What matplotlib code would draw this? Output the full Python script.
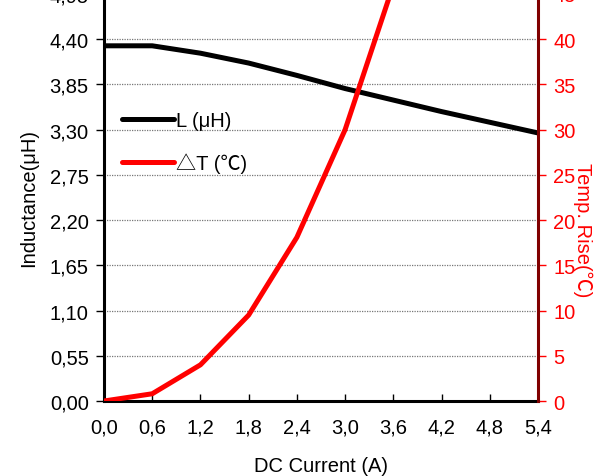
import matplotlib
matplotlib.use('Agg')
import matplotlib.pyplot as plt

# 数据
current = [0.0, 0.6, 1.2, 1.8, 2.4, 3.0, 3.6, 4.2, 4.8, 5.4]
inductance = [4.32, 4.32, 4.23, 4.11, 3.96, 3.80, 3.66, 3.52, 3.39, 3.26]
temp_current = [0.0, 0.6, 1.2, 1.8, 2.4, 3.0, 3.6]
temp_rise = [0.0, 0.8, 4.0, 9.5, 18.1, 30.0, 46.0]

x_ticks = [0.0, 0.6, 1.2, 1.8, 2.4, 3.0, 3.6, 4.2, 4.8, 5.4]
l_ticks = [0.00, 0.55, 1.10, 1.65, 2.20, 2.75, 3.30, 3.85, 4.40, 4.95]
t_ticks = [0, 5, 10, 15, 20, 25, 30, 35, 40, 45]

plt.rcParams['font.family'] = ['Liberation Sans', 'Noto Sans CJK SC', 'DejaVu Sans']

fig = plt.figure(figsize=(6.07, 4.77), dpi=100)
# 图的顶部在画面之外（原图被裁切）
ax = fig.add_axes([104/607, 75/477, 434/607, 407/477])
ax2 = ax.twinx()

ax.plot(current, inductance, color='black', lw=3.6, label='L (μH)', solid_capstyle='round')
ax2.plot(temp_current, temp_rise, color='red', lw=3.6, solid_capstyle='round')
ax.plot([], [], color='red', lw=3.6, label='△T (℃)', solid_capstyle='round')

ax.set_xlim(0, 5.4)
ax.set_ylim(0, 4.95)
ax2.set_ylim(0, 45)

ax.set_xticks(x_ticks)
ax.set_xticklabels([('%.1f' % v).replace('.', ',') for v in x_ticks])
ax.set_yticks(l_ticks)
ax.set_yticklabels([('%.2f' % v).replace('.', ',') for v in l_ticks])
ax2.set_yticks(t_ticks)
ax2.set_yticklabels([str(v) for v in t_ticks])

ax.grid(axis='y', color='#777777', linestyle=(0, (1, 1)), lw=0.9)
ax.set_axisbelow(True)

fs = 14.5
ax.tick_params(axis='x', direction='in', length=5, width=1, labelsize=fs, pad=12)
ax.tick_params(axis='y', direction='out', length=6, width=1, labelsize=fs, pad=5)
ax2.tick_params(axis='y', direction='out', length=6, width=1, colors='red', labelsize=fs, pad=5)

ax.spines['top'].set_visible(False)
ax2.spines['top'].set_visible(False)
ax.spines['left'].set_linewidth(2.2)
ax.spines['bottom'].set_linewidth(2.2)
ax.spines['right'].set_visible(False)
ax2.spines['left'].set_visible(False)
ax2.spines['bottom'].set_visible(False)
ax2.spines['right'].set_color('#800000')
ax2.spines['right'].set_linewidth(2.2)

ax.set_xlabel('DC Current (A)', fontsize=fs, labelpad=14)
ax.set_ylabel('Inductance(μH)', fontsize=fs, labelpad=8)
fig.text(583/607, 1 - 230/477, 'Temp. Rise(℃)', color='red', fontsize=fs,
         rotation=270, ha='center', va='center')

fig.legend(loc='center left', bbox_to_anchor=(104/607, 1 - 143/477), frameon=False,
           fontsize=fs, handlelength=2.6, handletextpad=0.1, labelspacing=1.15)

fig.savefig('out.png', dpi=100)
